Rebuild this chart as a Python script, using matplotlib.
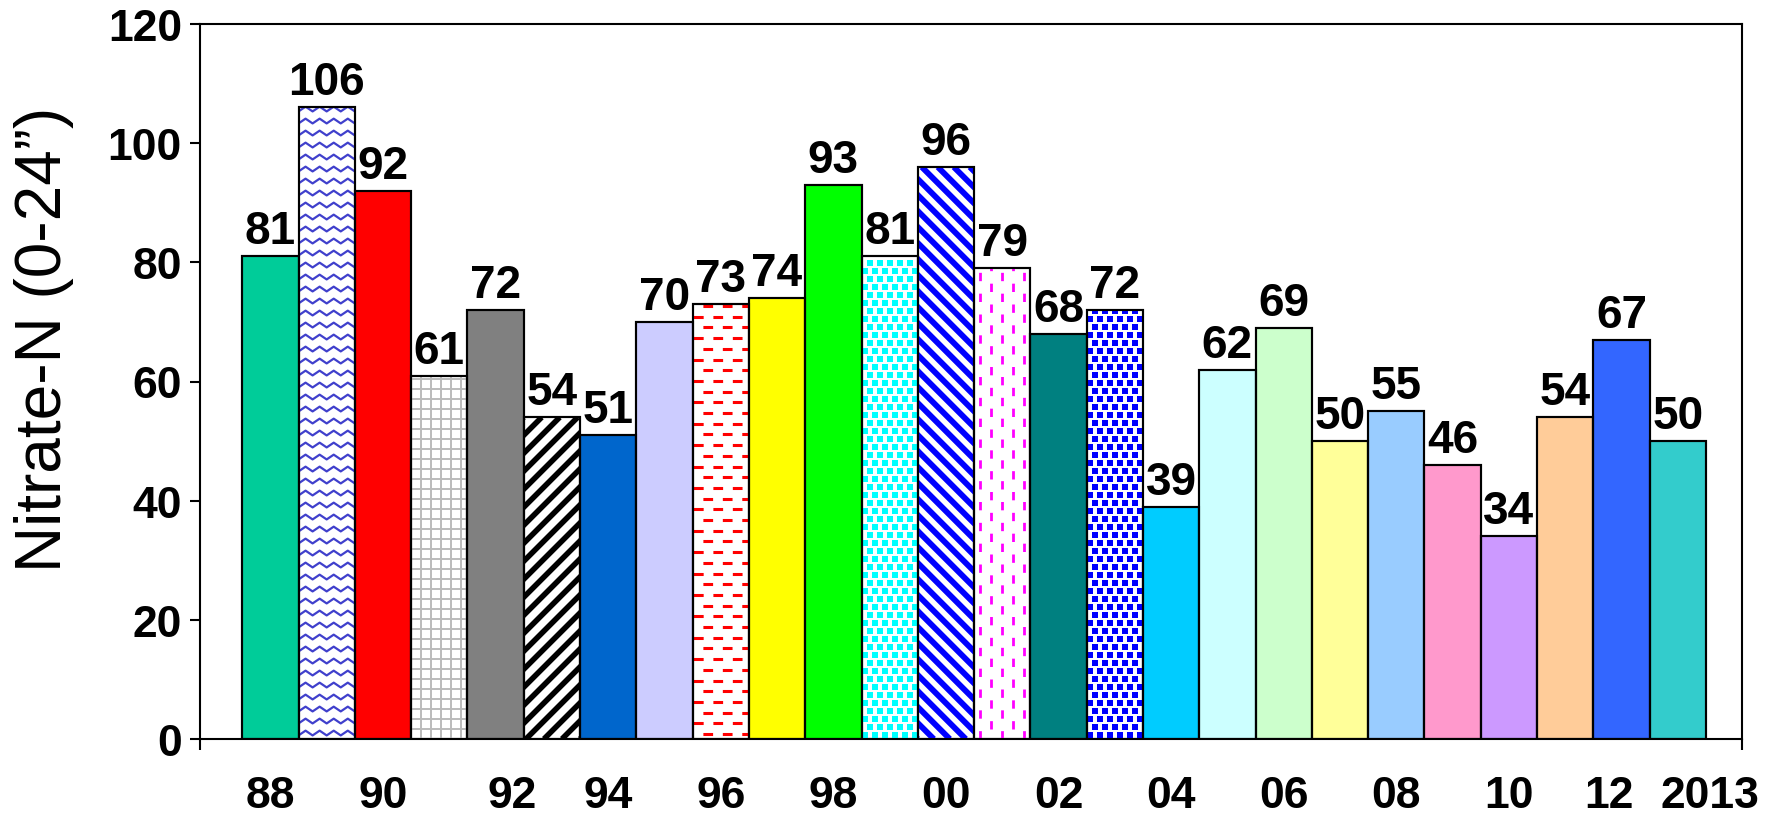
import matplotlib.pyplot as plt
import matplotlib.transforms as mtransforms
import numpy as np

plt.rcParams['font.family'] = ['Liberation Sans', 'DejaVu Sans']
plt.rcParams['lines.scale_dashes'] = False

years = list(range(1988, 2014))
nitrate = [81, 106, 92, 61, 72, 54, 51, 70, 73, 74, 93, 81, 96,
           79, 68, 72, 39, 62, 69, 50, 55, 46, 34, 54, 67, 50]
tick_pos = [0, 2, 4, 6, 8, 10, 12, 14, 16, 18, 20, 22, 24, 25]
tick_labels = ['88', '90', '92', '94', '96', '98', '00', '02', '04',
               '06', '08', '10', '12', '2013']

colors = ['#00CC99', 'white', '#FF0000', 'white', '#808080', 'white',
          '#0066CC', '#CCCCFF', 'white', '#FFFF00', '#00FF00', 'white',
          'white', 'white', '#008080', 'white', '#00CCFF', '#CCFFFF',
          '#CCFFCC', '#FFFF99', '#99CCFF', '#FF99CC', '#CC99FF',
          '#FFCC99', '#3366FF', '#33CCCC']

# patterned bars (white ground): index -> (kind, colour)
patterns = {
    1: ('wave', '#4040CC'),
    3: ('grid', '#BBBBBB'),
    5: ('diag_up', 'black'),
    8: ('hdash', '#FF0000'),
    11: ('dots', '#00FFFF'),
    12: ('diag_down', '#0000FF'),
    13: ('vdash', '#FF00FF'),
    15: ('dots', '#0000FF'),
}

fig = plt.figure(figsize=(17.77, 8.2), dpi=100)
ax = fig.add_axes([200 / 1777, 80 / 820, 1542 / 1777, 715 / 820])
ax.set_xlim(-1.25, 26.14)
ax.set_ylim(0, 120)

x = np.arange(len(years))
bars = ax.bar(x, nitrate, width=1.0, color=colors, edgecolor='black',
              linewidth=1.5, zorder=2)

# data units per pixel, used to size the fill patterns
px_x = 27.39 / 1542
px_y = 120 / 715


def add_lines(rect, segs, color, lw, dashes=None):
    for xs, ys in segs:
        ln, = ax.plot(xs, ys, color=color, lw=lw, zorder=3,
                      solid_capstyle='butt', dash_capstyle='butt')
        if dashes is not None:
            ln.set_dashes(dashes)
        ln.set_clip_path(rect)


def fill_pattern(rect, kind, c):
    x0, w, h = rect.get_x(), rect.get_width(), rect.get_height()
    if kind == 'wave':
        xs = np.linspace(x0, x0 + w, 9)
        amp = np.where(np.arange(len(xs)) % 2 == 0, -0.4, 0.4)
        segs = [(xs, y + amp) for y in np.arange(1.0, h + 1, 12 * px_y)]
        add_lines(rect, segs, c, 1.6)
    elif kind == 'grid':
        segs = [([x0, x0 + w], [y, y]) for y in np.arange(0, h, 10 * px_y)]
        segs += [([xx, xx], [0, h]) for xx in np.arange(x0, x0 + w, 10 * px_x)]
        add_lines(rect, segs, c, 1.4)
    elif kind in ('diag_up', 'diag_down'):
        step = (18 if kind == 'diag_up' else 16) * px_x
        lw = 4.0 if kind == 'diag_up' else 4.2
        dx = h * px_x / px_y
        segs = []
        for xx in np.arange(x0 - dx, x0 + w + dx, step):
            if kind == 'diag_up':
                segs.append(([xx, xx + dx], [0, h]))
            else:
                segs.append(([xx, xx + dx], [h, 0]))
        add_lines(rect, segs, c, lw)
    elif kind == 'hdash':
        segs = []
        for k, y in enumerate(np.arange(5 * px_y, h, 10.7 * px_y)):
            shift = 0.0 if k % 2 == 0 else 10 * px_x
            segs.append(([x0 - 0.5 + shift, x0 + w + 0.5], [y, y]))
        add_lines(rect, segs, c, 2.2, dashes=(7, 7))
    elif kind == 'vdash':
        segs = []
        for k, xx in enumerate(np.arange(x0 + 6 * px_x, x0 + w, 11 * px_x)):
            start = 0.0 if k % 2 == 0 else 10 * px_y
            segs.append(([xx, xx], [start, h + 5]))
        add_lines(rect, segs, c, 2.0, dashes=(6, 9))
    elif kind == 'dots':
        gx, gy = [], []
        for k, y in enumerate(np.arange(4 * px_y, h, 8 * px_y)):
            off = 0.0 if k % 2 == 0 else 5 * px_x
            for xx in np.arange(x0 + 3 * px_x + off, x0 + w, 10 * px_x):
                gx.append(xx)
                gy.append(y)
        sc = ax.scatter(gx, gy, marker='s', s=18, color=c, linewidths=0,
                        zorder=3)
        sc.set_clip_path(rect)


for i, (kind, c) in patterns.items():
    fill_pattern(bars[i], kind, c)

# outlines on top of the patterns
ax.bar(x, nitrate, width=1.0, fill=False, edgecolor='black',
       linewidth=1.5, zorder=4)

for i, v in enumerate(nitrate):
    ax.text(x[i], v + 0.5, str(v), ha='center', va='bottom',
            fontsize=33, fontweight='bold', zorder=5)

ax.set_yticks(np.arange(0, 121, 20))
ax.tick_params(axis='y', labelsize=32, width=1.5, length=7, pad=6)
for lab in ax.get_yticklabels():
    lab.set_fontweight('bold')
ax.set_xticks(tick_pos)
ax.set_xticklabels(tick_labels, fontsize=32, fontweight='bold')
ax.tick_params(axis='x', length=0, pad=26)
ax.set_xticks([-1.25, 26.14], minor=True)
ax.tick_params(axis='x', which='minor', length=8, width=1.5)

# a few year labels sit slightly off their bar centre
shifts = {'92': 12, '12': -9, '2013': 23}
for lab in ax.get_xticklabels():
    dx = shifts.get(lab.get_text(), 0)
    if dx:
        lab.set_transform(lab.get_transform() + mtransforms.ScaledTranslation(
            dx / 72, 0, fig.dpi_scale_trans))

for s in ax.spines.values():
    s.set_linewidth(1.5)

ax.set_ylabel('Nitrate-N (0-24\u201d)', fontsize=46)
ax.yaxis.set_label_coords(-0.082, 0.56)

fig.savefig('out.png', dpi=100)
